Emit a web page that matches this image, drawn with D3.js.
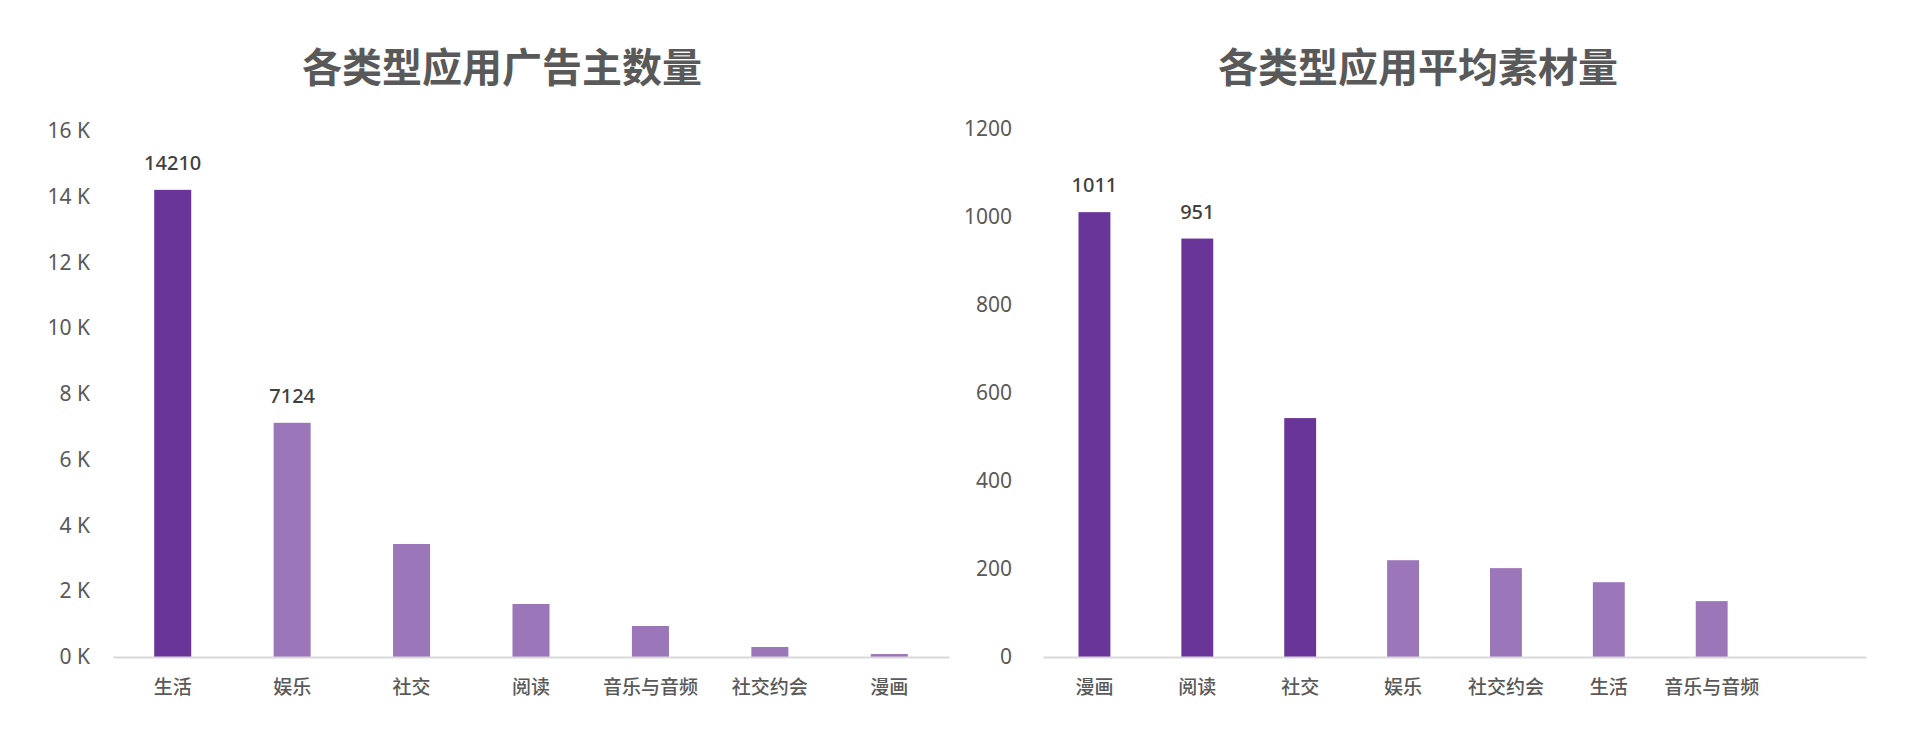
<!DOCTYPE html>
<html>
<head>
<meta charset="utf-8">
<script src="https://cdn.jsdelivr.net/npm/d3@7"></script>
<style>
  body { margin: 0; background: #fff; }
  svg { font-family: "Noto Sans CJK SC", "Noto Sans", sans-serif; }
</style>
</head>
<body>
<svg id="chart" width="1906" height="738"></svg>
<script>
// left chart: advertisers per app type
var advCategories = ["生活", "娱乐", "社交", "阅读", "音乐与音频", "社交约会", "漫画"]
var advValues = [14210, 7124, 3437, 1612, 943, 304, 90]
var advTicks = [0, 2000, 4000, 6000, 8000, 10000, 12000, 14000, 16000]
var advDark = ["生活"]
var advLabelled = ["生活", "娱乐"]

// right chart: avg creatives per app type
var matCategories = ["漫画", "阅读", "社交", "娱乐", "社交约会", "生活", "音乐与音频"]
var matValues = [1011, 951, 543, 220, 202, 170, 127]
var matTicks = [0, 200, 400, 600, 800, 1000, 1200]
var matDark = ["漫画", "阅读", "社交"]
var matLabelled = ["漫画", "阅读"]

var darkColor = "#6a3599",
    lightColor = "#9b77ba",
    textColor = "#595959",
    labelColor = "#404040",
    axisColor = "#d9d9d9"

var svg = d3.select("#chart")

function BarChart(options) {
    var g = svg.append("g")
    var cats = options.categories,
        vals = options.values

    var data = cats.map(function(c, i) { return { cat: c, value: vals[i] } })

    var x = d3.scaleBand()
        .domain(cats.concat(options.spare || []))
        .range([options.x0, options.x1])
        .paddingInner(0.69)
        .paddingOuter(0.345)

    var y = d3.scaleLinear()
        .domain([0, d3.max(options.ticks)])
        .range([options.y0, options.y1])

    // title
    g.append("text")
        .attr("x", options.titleX)
        .attr("y", 68)
        .attr("dy", "0.36em")
        .attr("text-anchor", "middle")
        .style("font-size", "40px")
        .style("font-weight", "bold")
        .style("fill", textColor)
        .text(options.title)

    // y axis, no line, just labels
    var yAxis = g.append("g")
        .attr("transform", "translate(" + options.x0 + ",0)")
        .call(d3.axisLeft(y)
            .tickValues(options.ticks)
            .tickSize(0)
            .tickPadding(options.tickPad)
            .tickFormat(options.format))
    yAxis.select(".domain").remove()
    yAxis.selectAll("text")
        .style("font-size", "21px")
        .style("font-family", "'Noto Sans', 'Noto Sans CJK SC', sans-serif")
        .style("fill", textColor)

    g.selectAll(".bar")
        .data(data)
        .enter().append("rect")
        .attr("class", "bar")
        .attr("x", function(d) { return x(d.cat) })
        .attr("y", function(d) { return y(d.value) })
        .attr("width", x.bandwidth())
        .attr("height", function(d) { return y(0) - y(d.value) })
        .style("fill", function(d) {
            return options.dark.indexOf(d.cat) >= 0 ? darkColor : lightColor
        })

    g.selectAll(".val")
        .data(data.filter(function(d) { return options.labelled.indexOf(d.cat) >= 0 }))
        .enter().append("text")
        .attr("class", "val")
        .attr("x", function(d) { return x(d.cat) + x.bandwidth() / 2 })
        .attr("y", function(d) { return y(d.value) - 27 })
        .attr("dy", "0.36em")
        .attr("text-anchor", "middle")
        .style("font-size", "20px")
        .style("font-weight", 500)
        .style("font-family", "'Noto Sans', 'Noto Sans CJK SC', sans-serif")
        .style("fill", labelColor)
        .text(function(d) { return d.value })

    // x axis
    var xAxis = g.append("g")
        .attr("transform", "translate(0," + options.y0 + ")")
        .call(d3.axisBottom(x).tickSize(0).tickPadding(24))
    xAxis.select(".domain")
        .style("stroke", axisColor)
        .style("stroke-width", 2)
    xAxis.selectAll("text")
        .style("font-size", "19px")
        .style("font-weight", 500)
        .style("font-family", "'Noto Sans CJK SC', sans-serif")
        .style("fill", textColor)
}

BarChart({
    categories: advCategories,
    values: advValues,
    ticks: advTicks,
    dark: advDark,
    labelled: advLabelled,
    title: "各类型应用广告主数量",
    titleX: 502,
    x0: 113, x1: 949,
    y0: 657, y1: 131,
    tickPad: 23,
    format: function(d) { return d / 1000 + " K" }
})

BarChart({
    categories: matCategories,
    values: matValues,
    spare: [" "],
    ticks: matTicks,
    dark: matDark,
    labelled: matLabelled,
    title: "各类型应用平均素材量",
    titleX: 1418,
    x0: 1043, x1: 1866,
    y0: 657, y1: 129,
    tickPad: 31,
    format: function(d) { return d }
})
</script>
</body>
</html>
